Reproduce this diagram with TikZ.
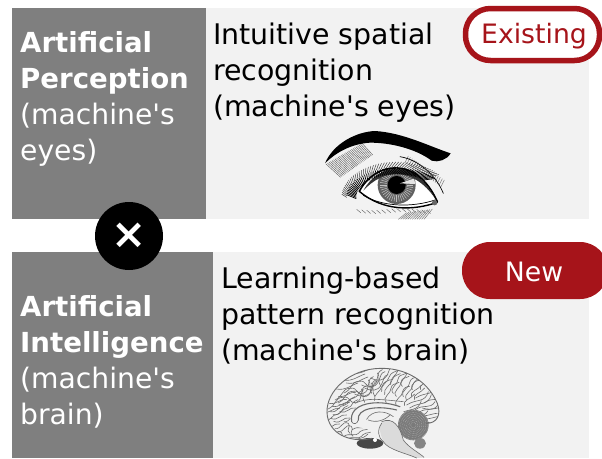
\documentclass[tikz,border=0pt]{standalone}
\usepackage{fontspec}
\setmainfont{DejaVu Sans}[Ligatures=TeXOff]
\definecolor{barGray}{HTML}{7F7F7F}
\definecolor{panelGray}{HTML}{F2F2F2}
\definecolor{tagRed}{HTML}{A6141A}
\newcommand{\bld}[1]{{\fontsize{27.6}{36}\selectfont\bfseries #1}}
\newcommand{\gyriset}{%
  \draw[gyrus] (105,120) .. controls (130,110) and (125,85) .. (150,85) .. controls (175,80) and (165,105) .. (190,100) .. controls (215,90) and (195,60) .. (220,50);
  \draw[gyrus] (130,60) .. controls (160,65) and (170,50) .. (195,42);
  \draw[gyrus] (185,75) .. controls (205,85) and (225,85) .. (235,65) .. controls (245,45) and (240,40) .. (255,35);
  \draw[gyrus] (245,95) .. controls (240,75) and (262,70) .. (268,50) .. controls (272,38) and (285,35) .. (292,32);
  \draw[gyrus] (280,100) .. controls (265,85) and (295,75) .. (295,55) .. controls (295,45) and (310,45) .. (318,40);
  \draw[gyrus] (310,110) .. controls (300,90) and (330,85) .. (330,65) .. controls (332,55) and (345,52) .. (350,52);
  \draw[gyrus] (335,110) .. controls (325,95) and (355,90) .. (365,75);
  \draw[gyrus] (320,135) .. controls (350,115) and (375,130) .. (385,95);
  \draw[gyrus] (345,150) .. controls (370,130) and (390,150) .. (405,125);
  \draw[gyrus] (340,165) .. controls (370,175) and (395,160) .. (412,160);
  \draw[gyrus] (90,155) .. controls (115,160) and (115,135) .. (135,135) .. controls (150,130) and (145,115) .. (165,110);
  \draw[gyrus] (88,130) .. controls (110,135) and (120,115) .. (140,118);
  \draw[gyrus] (92,175) .. controls (115,185) and (120,160) .. (140,165);
  \draw[gyrus] (105,205) .. controls (125,210) and (125,180) .. (145,190) .. controls (155,200) and (135,210) .. (150,220);
  \draw[gyrus] (130,230) .. controls (150,215) and (165,235) .. (180,215) .. controls (190,205) and (205,215) .. (225,195);
  \draw[gyrus] (215,100) .. controls (205,85) and (215,70) .. (205,60);
}
\tikzset{
  bar/.style={fill=barGray,draw=none},
  panel/.style={fill=panelGray,draw=none},
  sidetext/.style={anchor=north west,inner sep=0pt,align=left,text=white,font=\fontsize{28.2}{36}\selectfont},
  bodytext/.style={anchor=north west,inner sep=0pt,align=left,text=black,font=\fontsize{28.4}{36}\selectfont},
  tagtext/.style={inner sep=0pt,font=\fontsize{26.7}{30}\selectfont},
  gyrus/.style={draw=black!58,line width=.6pt,line cap=round,line join=round},
  ink/.style={draw=black,line cap=round},
}
\begin{document}
\begin{tikzpicture}[x=1pt,y=-1pt]
\useasboundingbox (0,0) rectangle (602,458);
\fill[white] (0,0) rectangle (602,458);
% panels
\path[panel] (206,8) rectangle (589,219);
\path[bar] (12,8) rectangle (206,219);
\path[panel] (213,252) rectangle (589,458);
\path[bar] (12,252) rectangle (213,458);
% text
\node[sidetext] (side1) at (20,31) {\bld{Artificial}\\\bld{Perception}\\(machine's\\eyes)};
\node[sidetext] (side2) at (20,295) {\bld{Artificial}\\\bld{Intelligence}\\(machine's\\brain)};
\node[bodytext] (body1) at (213,23) {Intuitive spatial\\recognition\\(machine's eyes)};
\node[bodytext] (body2) at (221,267) {Learning-based\\pattern recognition\\(machine's brain)};
% cross
\node[circle,fill=black,minimum size=68pt,inner sep=0pt,text=white,font=\bfseries\fontsize{42}{42}\selectfont] (times) at (129,236) {×};
% tags
\node[draw=tagRed,line width=5.5pt,fill=white,rounded corners=25pt,minimum width=134pt,minimum height=52pt,inner sep=0pt] (existingpill) at (532.5,34.5) {};
\node[tagtext,text=tagRed] (existing) at (534,36) {Existing};
\begin{scope}
\clip (0,0) rectangle (602,458);
\node[fill=tagRed,rounded corners=28pt,minimum width=146pt,minimum height=57pt,inner sep=0pt] (newpill) at (535,270.5) {};
\end{scope}
\node[tagtext,text=white] (new) at (534,272) {New};
% eye
\begin{scope}[shift={(300pt,-120pt)},x=.3333pt,y=-.3333pt]
  % skin shading
  \foreach \k in {0,1,...,24}{
    \draw[black!60,line width=.45pt] ({78+4.5*\k},{132-2.6*\k}) -- ({122+4*\k},{172-2.8*\k});
  }
  \foreach \k in {0,1,...,18}{
    \draw[black!55,line width=.45pt] ({325+6*\k},{108+4*\k}) -- ({315+6*\k},{128+4*\k});
  }
  % eye socket
  \path[fill=white] (180,215) .. controls (225,125) and (350,105) .. (412,245) .. controls (340,272) and (250,275) .. (180,215) -- cycle;
  \begin{scope}
    \clip (180,215) .. controls (225,125) and (350,105) .. (412,245) .. controls (340,272) and (250,275) .. (180,215) -- cycle;
    \fill[black!62] (290,195) circle (57);
    \foreach \a in {0,9,...,351}{\draw[white!75!black,line width=.55pt] (290,195) ++(\a:30) -- ++(\a:20);}
    \fill[black] (290,195) circle (27);
    \fill[white!90!black] (300,190) -- (342,176) -- (346,192) -- cycle;
    \fill[black!80] (190,212) .. controls (235,128) and (345,115) .. (405,235) .. controls (340,140) and (250,145) .. (190,212) -- cycle;
  \end{scope}
  % lids
  \draw[ink,line width=1.6pt] (178,214) .. controls (225,125) and (350,105) .. (412,245);
  \draw[ink,line width=1.4pt] (178,214) .. controls (250,275) and (340,272) .. (412,247);
  \draw[ink,line width=.7pt] (190,226) .. controls (250,262) and (340,262) .. (405,240);
  \fill[black!60] (404,248) circle (8);
  \draw[ink,line width=.7pt] (300,110) .. controls (360,120) and (410,170) .. (430,220);
  % brow
  \fill[black] (75,130) .. controls (100,70) and (170,35) .. (225,33) .. controls (310,38) and (390,80) .. (452,100)
     .. controls (440,120) and (415,128) .. (395,122) .. controls (345,85) and (270,68) .. (210,68)
     .. controls (150,72) and (105,100) .. (75,130) -- cycle;
  % upper-lid hatching
  \foreach \a in {40,43,...,175}{
    \draw[ink,line width=.75pt] ({290+150*cos(\a)},{232-88*sin(\a)}) -- ({290+(150-28)*cos(\a+8)},{232-(88-18)*sin(\a+8)});
    \draw[ink,line width=.5pt,black!75] ({290+165*cos(\a)},{232-106*sin(\a)}) -- ({290+150*cos(\a+5)},{232-90*sin(\a+5)});
  }
  % lower hatching
  \foreach \k in {0,1,...,14}{
    \draw[black!60,line width=.45pt] ({170+15*\k},{268+3*sin(30*\k)}) -- ({182+15*\k},{278+3*sin(30*\k)});
  }
  \foreach \k in {0,1,...,11}{
    \draw[black!55,line width=.45pt] ({295+7*\k},298) -- ({320+7*\k},{278-\k});
  }
\end{scope}
% brain
\begin{scope}[shift={(300pt,-360pt)},x=.3333pt,y=-.3333pt]
  \fill[black!6] (85,180) .. controls (65,120) and (120,45) .. (210,28) .. controls (300,13) and (380,55) .. (412,130)
     .. controls (425,165) and (410,190) .. (380,190) .. controls (385,225) and (350,262) .. (330,250)
     .. controls (300,250) and (250,225) .. (215,235) .. controls (180,245) and (105,240) .. (85,180) -- cycle;
  % gyri, staggered sets
  \begin{scope}
    \clip (85,180) .. controls (65,120) and (120,45) .. (210,28) .. controls (300,13) and (380,55) .. (412,130)
     .. controls (425,165) and (410,190) .. (380,190) -- (300,150) .. controls (230,110) and (145,130) .. (150,190) .. controls (170,215) and (220,190) .. (215,235) .. controls (180,245) and (105,240) .. (85,180) -- cycle;
    \gyriset
    \begin{scope}[shift={(9pt,7pt)}]\gyriset\end{scope}
    \begin{scope}[shift={(-7pt,-9pt)}]\gyriset\end{scope}
    \begin{scope}[shift={(3pt,-3pt)}]\gyriset\end{scope}
  \end{scope}
  % cerebellum
  \fill[black!52] (340,195) circle (46);
  \foreach \r in {8,14,...,46}{\draw[black!25,line width=.45pt,densely dotted] (340,195) circle (\r);}
  \fill[black!72] (210,250) ellipse (40 and 16);
  \fill[white] (225,240) circle (6);
  % brain stem
  \fill[black!14] (245,185) .. controls (280,170) and (300,200) .. (310,240) .. controls (325,262) and (360,280) .. (372,292)
     -- (350,294) .. controls (320,280) and (265,270) .. (250,245) .. controls (240,220) and (235,200) .. (245,185) -- cycle;
  \draw[gyrus] (245,185) .. controls (280,170) and (300,200) .. (310,240) .. controls (325,262) and (360,280) .. (372,292);
  \draw[gyrus] (250,245) .. controls (265,270) and (320,280) .. (350,294);
  \draw[gyrus] (245,190) .. controls (230,210) and (235,235) .. (250,245);
  \fill[black!48] (360,250) ellipse (18 and 16);
  % outer contour
  \draw[gyrus,line width=.9pt] (85,180) .. controls (65,120) and (120,45) .. (210,28) .. controls (300,13) and (380,55) .. (412,130)
     .. controls (425,165) and (410,190) .. (380,190);
  \draw[gyrus,line width=.9pt] (85,180) .. controls (105,240) and (180,245) .. (215,235);
  % corpus callosum
  \draw[gyrus,line width=1.1pt] (155,185) .. controls (145,130) and (230,115) .. (300,140);
  \draw[gyrus,line width=1.1pt] (175,180) .. controls (170,145) and (230,135) .. (290,150);
  \draw[gyrus] (155,185) .. controls (160,195) and (172,192) .. (175,180);
  \draw[gyrus] (200,178) .. controls (215,150) and (255,150) .. (280,170);
  \draw[gyrus] (205,180) .. controls (230,190) and (255,180) .. (270,165);
  \draw[gyrus] (165,130) .. controls (200,112) and (240,118) .. (310,125);
\end{scope}
\end{tikzpicture}
\end{document}
